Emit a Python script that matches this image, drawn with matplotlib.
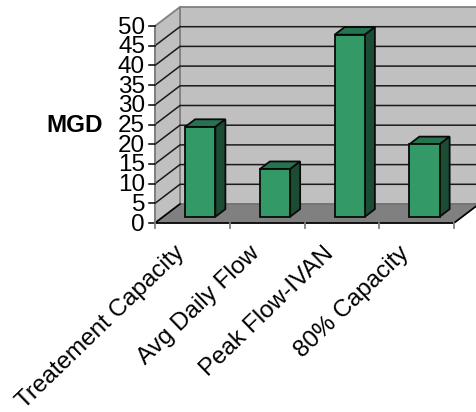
import matplotlib
matplotlib.use("Agg")
import matplotlib.pyplot as plt
from matplotlib.patches import Polygon

categories = ["Treatement Capacity", "Avg Daily Flow", "Peak Flow-IVAN", "80% Capacity"]
values = [22.8, 12.1, 46.2, 18.4]
y_ticks = [0, 5, 10, 15, 20, 25, 30, 35, 40, 45, 50]

W, H = 476, 412
X0, X1, Y0, Y50 = 155, 454, 223, 26
DX, DY = 25, 19
cat_px = (X1 - X0) / len(categories)
val_px = (Y0 - Y50) / 50
ddx = DX / cat_px      # depth shear in category units
ddy = DY / val_px      # depth shear in value units

plt.rcParams['font.family'] = ['Liberation Sans', 'DejaVu Sans']
fig = plt.figure(figsize=(W / 100, H / 100), dpi=100)
ax = fig.add_axes([0, 0, 1, 1])
ax.set_xlim(-X0 / cat_px, (W - X0) / cat_px)
ax.set_ylim(-(H - Y0) / val_px, Y0 / val_px)
ax.axis('off')

def P(x, v, d=0.0):
    return (x + d * ddx, v + d * ddy)

n = len(categories)
EDGE = '#808080'
ax.add_patch(Polygon([P(0, 0, 1), P(n, 0, 1), P(n, 50, 1), P(0, 50, 1)], fc='#C0C0C0', ec=EDGE, lw=1.3, zorder=1))
ax.add_patch(Polygon([P(0, 0, 0), P(0, 0, 1), P(0, 50, 1), P(0, 50, 0)], fc='#C0C0C0', ec=EDGE, lw=1.3, zorder=1))
ax.add_patch(Polygon([P(0, 0, 0), P(n, 0, 0), P(n, 0, 1), P(0, 0, 1)], fc='#808080', ec='#707070', lw=1, zorder=2))
for t in y_ticks[1:-1]:
    ax.plot(*zip(P(0, t, 0), P(0, t, 1), P(n, t, 1)), color='#1a1a1a', lw=1.1, zorder=2, solid_joinstyle='miter')
# front axes
ax.plot(*zip(P(0, 0, 1), P(0, 0, 0), P(n, 0, 0), P(n, 0, 1)), color='black', lw=1.2, zorder=3)
ax.plot(*zip(P(0, 0), P(0, 50)), color=EDGE, lw=1.3, zorder=3)
for t in y_ticks:
    ax.plot([-6 / cat_px, 0], [t, t], color='black', lw=1.1, zorder=3)
    ax.text(-10 / cat_px, t - 1.5 / val_px, str(t), ha='right', va='center', fontsize=17.5, zorder=4)
for i in range(n + 1):
    ax.plot([i, i], [0, -5 / val_px], color=EDGE, lw=1.3, zorder=3)

bw = 0.405
d0, d1 = 0.33, 0.73
for i, v in enumerate(values):
    x0, x1 = i + 0.5 - bw / 2 - 0.005, i + 0.5 + bw / 2 - 0.005
    kw = dict(ec='#0a0a0a', lw=1.3, joinstyle='miter', zorder=5)
    ax.add_patch(Polygon([P(x0, v, d0), P(x1, v, d0), P(x1, v, d1), P(x0, v, d1)], fc='#267350', **kw))
    ax.add_patch(Polygon([P(x1, 0, d0), P(x1, 0, d1), P(x1, v, d1), P(x1, v, d0)], fc='#1A4D33', **kw))
    ax.add_patch(Polygon([P(x0, 0, d0), P(x1, 0, d0), P(x1, v, d0), P(x0, v, d0)], fc='#339966', **kw))

for i, c in enumerate(categories):
    ax.text(i + 0.5 - 11 / cat_px, -27 / val_px, c, rotation=44, rotation_mode='anchor', ha='right', va='center', fontsize=17.5, zorder=4)

ax.text(-(X0 - 46) / cat_px, (Y0 - 125.5) / val_px, "MGD", ha='left', va='center', fontsize=17.5, fontweight='bold')
fig.savefig("out.png", dpi=100)
